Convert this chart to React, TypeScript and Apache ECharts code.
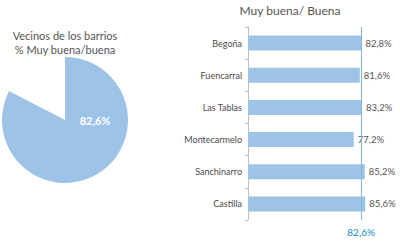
import React, { useEffect, useRef } from "react";
import * as echarts from "echarts";

const pieTitle = ["Vecinos de los barrios", "% Muy buena/buena"];
const pieValue = 82.6;
const barTitle = "Muy buena/ Buena";
const categories = ["Begoña", "Fuencarral", "Las Tablas", "Montecarmelo", "Sanchinarro", "Castilla"];
const values = [82.8, 81.6, 83.2, 77.2, 85.2, 85.6];
const average = 82.6;

const fmt = (v: number) => v.toFixed(1).replace(".", ",") + "%";
const FONT = "Lato, 'Liberation Sans', sans-serif";

export default function App() {
  const ref = useRef<HTMLDivElement>(null);
  useEffect(() => {
    const chart = echarts.init(ref.current!, null, { renderer: "svg" });
    chart.setOption({
      animation: false,
      backgroundColor: "#ffffff",
      textStyle: { fontFamily: FONT },
      title: [
        {
          text: pieTitle.join("\n"),
          left: 65,
          top: 28,
          padding: 0,
          textAlign: "center",
          textStyle: { fontSize: 11, fontWeight: "normal", color: "#555555", lineHeight: 14, fontFamily: FONT },
        },
        {
          text: barTitle,
          left: 290,
          top: 3,
          padding: 0,
          textAlign: "center",
          textStyle: { fontSize: 12, fontWeight: "normal", color: "#555555", lineHeight: 14, fontFamily: FONT },
        },
      ],
      grid: { left: 248, top: 27, width: 137, height: 193, containLabel: false },
      xAxis: { type: "value", min: 0, max: 100, show: false },
      yAxis: {
        type: "category",
        data: categories,
        inverse: true,
        axisLine: { show: true, lineStyle: { color: "#bfbfbf" } },
        axisTick: { show: true, length: 3, lineStyle: { color: "#bfbfbf" } },
        axisLabel: { color: "#4a4a4a", fontSize: 9, margin: 6, fontFamily: FONT },
      },
      graphic: [
        {
          type: "text",
          x: 95,
          y: 120,
          style: {
            text: fmt(pieValue),
            fill: "#ffffff",
            fontSize: 11,
            fontWeight: "bold",
            fontFamily: FONT,
            align: "center",
            verticalAlign: "middle",
          },
          z: 100,
        },
      ],
      series: [
        {
          type: "pie",
          center: [65, 120],
          radius: 63,
          startAngle: 90,
          clockwise: true,
          silent: true,
          label: { show: false },
          labelLine: { show: false },
          data: [
            { value: pieValue, itemStyle: { color: "#9DC3E6" } },
            { value: 100 - pieValue, itemStyle: { color: "rgba(0,0,0,0)" } },
          ],
        },
        {
          type: "bar",
          data: values,
          barWidth: 15,
          itemStyle: { color: "#9DC3E6" },
          label: {
            show: true,
            position: "right",
            distance: 4,
            color: "#555555",
            fontSize: 9.5,
            fontFamily: FONT,
            formatter: (p: any) => fmt(p.value),
          },
          markLine: {
            silent: true,
            symbol: "none",
            lineStyle: { color: "#7FB8DC", width: 1, type: "solid" },
            label: {
              show: true,
              position: "end",
              distance: 7,
              color: "#2088CC",
              fontSize: 10,
              fontFamily: FONT,
              formatter: () => fmt(average),
            },
            data: [{ xAxis: average }],
          },
        },
      ],
    });
    return () => chart.dispose();
  }, []);
  return <div ref={ref} style={{ position: "absolute", left: 0, top: 0, width: 400, height: 250 }} />;
}
